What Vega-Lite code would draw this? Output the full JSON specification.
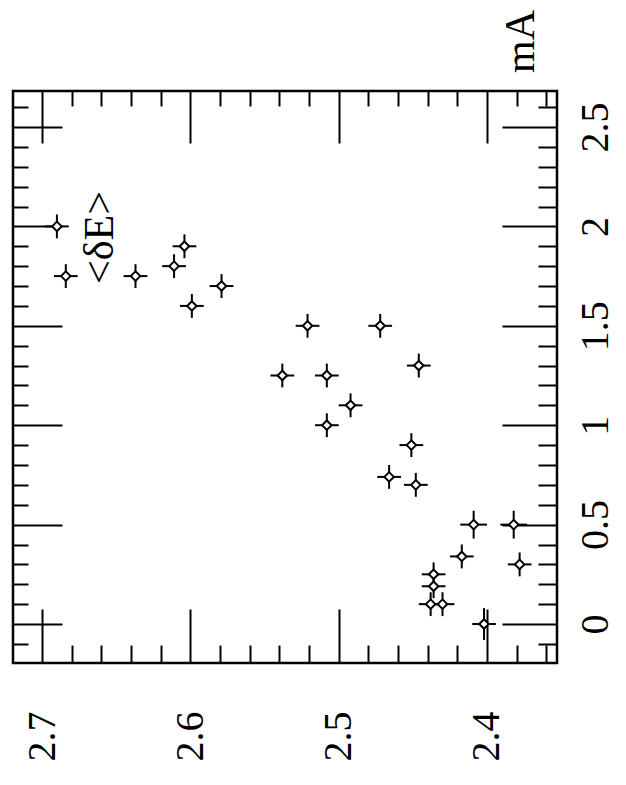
{
  "$schema": "https://vega.github.io/schema/vega-lite/v6.json",
  "width": 544,
  "height": 572,
  "autosize": {"type": "none"},
  "padding": {"left": 13, "top": 91, "right": 69, "bottom": 122},
  "background": "white",
  "config": {
    "view": {"stroke": "black", "strokeWidth": 2.5},
    "font": "Liberation Serif",
    "axis": {"grid": false, "domain": false, "tickColor": "black", "tickWidth": 2, "labelColor": "black", "titleColor": "black", "labelFont": "Liberation Serif", "titleFont": "Liberation Serif"}
  },
  "data": {
    "values": [
      {"dE": 2.690, "mA": 2.00, "dEe": 0.008, "mAe": 0.06},
      {"dE": 2.684, "mA": 1.75, "dEe": 0.008, "mAe": 0.06},
      {"dE": 2.637, "mA": 1.75, "dEe": 0.008, "mAe": 0.06},
      {"dE": 2.604, "mA": 1.90, "dEe": 0.008, "mAe": 0.06},
      {"dE": 2.611, "mA": 1.80, "dEe": 0.008, "mAe": 0.06},
      {"dE": 2.579, "mA": 1.70, "dEe": 0.008, "mAe": 0.06},
      {"dE": 2.599, "mA": 1.60, "dEe": 0.008, "mAe": 0.06},
      {"dE": 2.521, "mA": 1.50, "dEe": 0.008, "mAe": 0.06},
      {"dE": 2.472, "mA": 1.50, "dEe": 0.008, "mAe": 0.06},
      {"dE": 2.538, "mA": 1.25, "dEe": 0.008, "mAe": 0.06},
      {"dE": 2.508, "mA": 1.25, "dEe": 0.008, "mAe": 0.06},
      {"dE": 2.446, "mA": 1.30, "dEe": 0.008, "mAe": 0.06},
      {"dE": 2.492, "mA": 1.10, "dEe": 0.008, "mAe": 0.06},
      {"dE": 2.508, "mA": 1.00, "dEe": 0.008, "mAe": 0.06},
      {"dE": 2.451, "mA": 0.90, "dEe": 0.008, "mAe": 0.06},
      {"dE": 2.466, "mA": 0.74, "dEe": 0.008, "mAe": 0.06},
      {"dE": 2.448, "mA": 0.70, "dEe": 0.008, "mAe": 0.06},
      {"dE": 2.409, "mA": 0.50, "dEe": 0.009, "mAe": 0.07},
      {"dE": 2.382, "mA": 0.50, "dEe": 0.009, "mAe": 0.07},
      {"dE": 2.417, "mA": 0.34, "dEe": 0.008, "mAe": 0.06},
      {"dE": 2.378, "mA": 0.30, "dEe": 0.008, "mAe": 0.06},
      {"dE": 2.436, "mA": 0.25, "dEe": 0.008, "mAe": 0.06},
      {"dE": 2.436, "mA": 0.19, "dEe": 0.008, "mAe": 0.06},
      {"dE": 2.438, "mA": 0.10, "dEe": 0.008, "mAe": 0.06},
      {"dE": 2.430, "mA": 0.10, "dEe": 0.008, "mAe": 0.06},
      {"dE": 2.402, "mA": 0.00, "dEe": 0.008, "mAe": 0.08}
    ]
  },
  "resolve": {"axis": {"x": "independent", "y": "independent"}},
  "layer": [
    {
      "mark": {"type": "errorbar", "color": "black", "thickness": 2},
      "encoding": {
        "x": {"field": "dE", "type": "quantitative", "scale": {"domain": [2.3528, 2.7196], "reverse": true, "nice": false, "zero": false},
          "axis": {"orient": "top", "values": [2.36,2.38,2.4,2.42,2.44,2.46,2.48,2.5,2.52,2.54,2.56,2.58,2.6,2.62,2.64,2.66,2.68,2.7],
            "labels": false, "title": null,
            "tickSize": {"condition": {"test": "abs(datum.value*10 - round(datum.value*10)) < 0.01", "value": -52}, "value": -15}}},
        "xError": {"field": "dEe"},
        "y": {"field": "mA", "type": "quantitative", "scale": {"domain": [-0.196, 2.681], "nice": false, "zero": false},
          "axis": {"orient": "left", "values": [-0.1,0,0.1,0.2,0.3,0.4,0.5,0.6,0.7,0.8,0.9,1,1.1,1.2,1.3,1.4,1.5,1.6,1.7,1.8,1.9,2,2.1,2.2,2.3,2.4,2.5,2.6],
            "labels": false, "title": null,
            "tickSize": {"condition": {"test": "abs(datum.value*2 - round(datum.value*2)) < 0.01", "value": -49}, "value": -15}}}
      }
    },
    {
      "mark": {"type": "errorbar", "color": "black", "thickness": 2},
      "encoding": {
        "y": {"field": "mA", "type": "quantitative", "scale": {"domain": [-0.196, 2.681], "nice": false, "zero": false}, "axis": null},
        "yError": {"field": "mAe"},
        "x": {"field": "dE", "type": "quantitative", "scale": {"domain": [2.3528, 2.7196], "reverse": true, "nice": false, "zero": false}, "axis": null}
      }
    },
    {
      "mark": {"type": "point", "shape": "diamond", "size": 90, "fill": "white", "stroke": "black", "strokeWidth": 2, "opacity": 1, "fillOpacity": 1},
      "encoding": {
        "x": {"field": "dE", "type": "quantitative", "scale": {"domain": [2.3528, 2.7196], "reverse": true, "nice": false, "zero": false},
          "axis": {"orient": "bottom", "values": [2.36,2.38,2.4,2.42,2.44,2.46,2.48,2.5,2.52,2.54,2.56,2.58,2.6,2.62,2.64,2.66,2.68,2.7],
            "labelExpr": "abs(datum.value*10 - round(datum.value*10)) < 0.01 ? format(datum.value, '.2~f') : ''",
            "labelAngle": -90, "labelAlign": "center", "labelBaseline": "middle", "labelFontSize": 40, "labelPadding": 127, "labelOverlap": false,
            "tickSize": {"condition": {"test": "abs(datum.value*10 - round(datum.value*10)) < 0.01", "value": -54}, "value": -18},
            "title": "<δE>", "titleFontSize": 42, "titleFontWeight": "normal", "titleAngle": -90, "titleAlign": "center", "titleBaseline": "middle", "titleX": 86, "titleY": -426}},
        "y": {"field": "mA", "type": "quantitative", "scale": {"domain": [-0.196, 2.681], "nice": false, "zero": false},
          "axis": {"orient": "right", "values": [-0.1,0,0.1,0.2,0.3,0.4,0.5,0.6,0.7,0.8,0.9,1,1.1,1.2,1.3,1.4,1.5,1.6,1.7,1.8,1.9,2,2.1,2.2,2.3,2.4,2.5,2.6],
            "labelExpr": "abs(datum.value*2 - round(datum.value*2)) < 0.01 ? format(datum.value, '.2~f') : ''",
            "labelAngle": -90, "labelAlign": "center", "labelBaseline": "middle", "labelFontSize": 40, "labelPadding": 93, "labelOverlap": false,
            "tickSize": {"condition": {"test": "abs(datum.value*2 - round(datum.value*2)) < 0.01", "value": -55}, "value": -19},
            "title": "mA", "titleFontSize": 42, "titleFontWeight": "normal", "titleAngle": -90, "titleAlign": "center", "titleBaseline": "middle", "titleX": -37, "titleY": -50}}
      }
    }
  ]
}
